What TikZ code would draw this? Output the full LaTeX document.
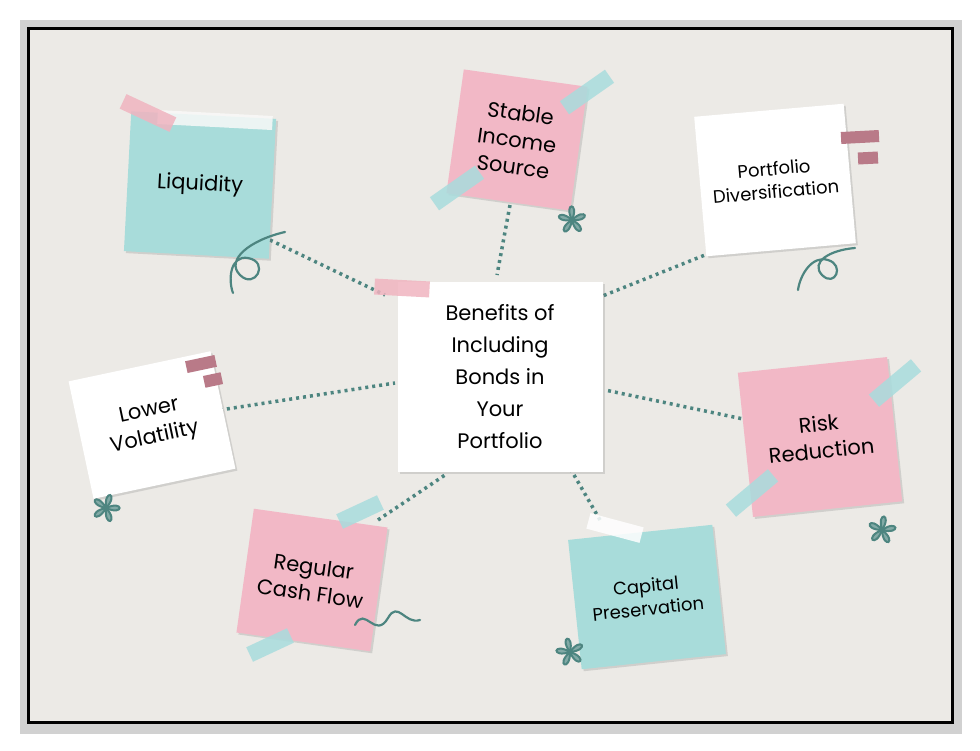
\documentclass[tikz,border=0pt]{standalone}
\usepackage{fontspec}
\setmainfont{Poppins}
\usetikzlibrary{shadows}
\definecolor{bg}{HTML}{ECEAE6}
\definecolor{teal}{HTML}{A8DCDA}
\definecolor{pinkn}{HTML}{F2B8C6}
\definecolor{dk}{HTML}{4D8580}
\definecolor{tapep}{HTML}{F0B4C0}
\definecolor{tapet}{HTML}{A9DCDD}
\definecolor{mauve}{HTML}{B97A88}
\tikzset{
 note/.style={minimum width=#1, minimum height=#1, inner sep=0pt, align=center, font=\fontsize{21}{27}\selectfont, drop shadow={opacity=0.25,shadow xshift=2pt,shadow yshift=-2pt}},
 small/.style={font=\fontsize{18}{23}\selectfont},
 conn/.style={dk, line width=3.5pt, dash pattern=on 3pt off 4pt},
 tape/.style={minimum width=55pt, minimum height=16pt, inner sep=0pt, opacity=0.85},
 deco/.style={dk, line width=2.2pt, line cap=round},
}
\begin{document}
\begin{tikzpicture}[x=1pt,y=-1pt]
\useasboundingbox (0,0) rectangle (980,750);
\fill[black!30, opacity=0.6] (20,20) rectangle (962,734);
\fill[bg] (28,28) rectangle (952,722);
\draw[black, line width=3pt] (28,28) rectangle (952,722);
% connectors
\coordinate (l1) at (270,240); \coordinate (l2) at (385,295);
\coordinate (s1) at (510,205); \coordinate (s2) at (497,275);
\coordinate (p1) at (730,245); \coordinate (p2) at (600,297);
\coordinate (v1) at (220,410); \coordinate (v2) at (395,383);
\coordinate (r1) at (748,420); \coordinate (r2) at (605,390);
\coordinate (c1) at (378,520); \coordinate (c2) at (445,475);
\coordinate (k1) at (600,520); \coordinate (k2) at (570,468);
\draw[conn] (l1)--(l2); \draw[conn] (s1)--(s2); \draw[conn] (p1)--(p2);
\draw[conn] (v1)--(v2); \draw[conn] (r1)--(r2); \draw[conn] (c1)--(c2); \draw[conn] (k1)--(k2);
% notes
\node[note=140pt, minimum width=145pt, fill=teal, rotate=-3] (liq) at (200,185) {Liquidity};
\node[tape, fill=white!70!bg, rotate=-3, minimum width=115pt, minimum height=14pt] at (215,120) {};
\node[tape, fill=tapep, rotate=-25] (t1) at (148,113) {};
\node[note=125pt, fill=pinkn, rotate=-8] (sta) at (517,140) {Stable\\Income\\Source};
\node[tape, fill=tapet, rotate=35] at (587,92) {};
\node[tape, fill=tapet, rotate=35] at (457,188) {};
\node[note=140pt, minimum width=150pt, fill=white, rotate=5, small] (div) at (775,180) {Portfolio\\Diversification};
\node[fill=mauve, minimum width=38pt, minimum height=12pt, inner sep=0pt, rotate=3] at (860,137) {};
\node[fill=mauve, minimum width=20pt, minimum height=12pt, inner sep=0pt, rotate=3] at (868,158) {};
\node[note=190pt, minimum width=205pt, fill=white, font=\fontsize{21}{32}\selectfont] (ctr) at (500,377) {Benefits of\\Including\\Bonds in\\Your\\Portfolio};
\node[tape, fill=tapep, rotate=-3] at (402,288) {};
\node[note=120pt, minimum width=145pt, fill=white, rotate=12] (vol) at (152,425) {Lower\\Volatility};
\node[fill=mauve, minimum width=30pt, minimum height=12pt, inner sep=0pt, rotate=12] at (201,364) {};
\node[fill=mauve, minimum width=18pt, minimum height=12pt, inner sep=0pt, rotate=12] at (213,380) {};
\node[note=145pt, minimum width=150pt, fill=pinkn, rotate=6] (risk) at (820,437) {Risk\\Reduction};
\node[tape, fill=tapet, rotate=40] at (895,383) {};
\node[tape, fill=tapet, rotate=40] at (752,493) {};
\node[note=125pt, minimum width=135pt, fill=pinkn, rotate=-8] (cash) at (312,580) {Regular\\Cash Flow};
\node[tape, fill=tapet, rotate=25, minimum width=45pt] at (360,512) {};
\node[tape, fill=tapet, rotate=25, minimum width=45pt] at (270,645) {};
\node[note=130pt, minimum width=145pt, fill=teal, rotate=6, small] (cap) at (647,597) {Capital\\Preservation};
\node[tape, fill=white, rotate=-15] at (615,528) {};
% swirls
\draw[deco] (285,232) .. controls (250,240) and (225,260) .. (240,275) .. controls (255,290) and (270,262) .. (248,258) .. controls (230,255) and (228,280) .. (233,293);
\draw[deco] (855,248) .. controls (830,250) and (810,262) .. (822,275) .. controls (835,288) and (845,265) .. (828,260) .. controls (812,255) and (800,275) .. (798,290);
\draw[deco] (355,625) .. controls (365,605) and (375,640) .. (388,618) .. controls (398,600) and (405,625) .. (420,620);
% flowers
\foreach \px/\py/\r in {106/508/0,572/220/20,882/530/10,570/652/30}{
 \begin{scope}[shift={(\px,\py)}, rotate=\r]
 \foreach \a in {0,72,...,288}{\draw[deco, line width=2pt, fill=dk!70] (0,0) .. controls ({\a-25}:20) and ({\a+25}:20) .. (0,0);}
 \end{scope}}
\end{tikzpicture}
\end{document}
